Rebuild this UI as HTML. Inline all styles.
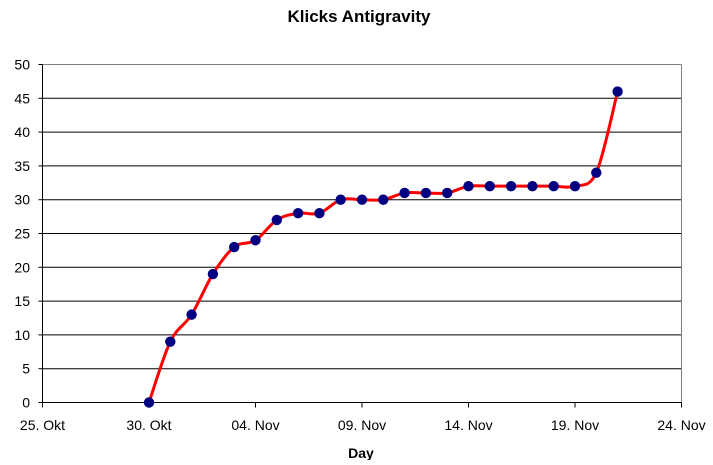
<!DOCTYPE html>
<html><head><meta charset="utf-8"><style>
html,body{margin:0;padding:0;background:#fff;}
svg text{font-family:"Liberation Sans",Arial,sans-serif;}
</style></head><body>
<svg id="s" width="713" height="460" xmlns="http://www.w3.org/2000/svg">
<text x="359" y="22" font-size="17" font-weight="bold" text-anchor="middle">Klicks Antigravity</text>
<text x="361" y="458" font-size="14" font-weight="bold" text-anchor="middle">Day</text>
<g id="grid"></g>
<path id="curve" fill="none" stroke="#ff0000" stroke-width="3"/>
<g id="marks" fill="#000080"></g>
</svg>
<script>
var ns="http://www.w3.org/2000/svg",g=document.getElementById('grid'),s=document.getElementById('s');
function el(t,a,p,txt){var e=document.createElementNS(ns,t);for(var k in a)e.setAttribute(k,a[k]);if(txt!=null)e.textContent=txt;(p||g).appendChild(e);return e;}
var X0=42.5,X1=681.5,Y0=402.5,Y1=64.5;
function yv(v){return Y0-(Y0-Y1)*v/50;}
for(var v=0;v<=50;v+=5){var y=yv(v);
 if(v>0&&v<50)el('line',{x1:X0,x2:X1,y1:y,y2:y,stroke:'#000'});
 el('line',{x1:X0-4,x2:X0,y1:y,y2:y,stroke:'#000'});
 el('text',{x:30,y:y+5,'font-size':14,'text-anchor':'end',fill:'#000'},null,v);}
el('line',{x1:X0,x2:X1,y1:Y1,y2:Y1,stroke:'#808080'});
el('line',{x1:X1,x2:X1,y1:Y1,y2:Y0,stroke:'#808080'});
el('line',{x1:X0,x2:X0,y1:Y1,y2:Y0,stroke:'#000'});
el('line',{x1:X0,x2:X1,y1:Y0,y2:Y0,stroke:'#000'});
var labs=['25. Okt','30. Okt','04. Nov','09. Nov','14. Nov','19. Nov','24. Nov'];
var dx=(X1-X0)/30;
for(var i=0;i<7;i++){var x=X0+i*5*dx;
 el('line',{x1:x,x2:x,y1:Y0,y2:Y0+5,stroke:'#000'});
 el('text',{x:x,y:430,'font-size':14,'text-anchor':'middle'},null,labs[i]);}
var d=[0,9,13,19,23,24,27,28,28,30,30,30,31,31,31,32,32,32,32,32,32,34,46];
var P=d.map(function(v,i){return [X0+(5+i)*dx,yv(v)];});
var p='M'+P[0][0]+','+P[0][1];
for(var i=0;i<P.length-1;i++){var a=P[i-1]||P[i],b=P[i],c=P[i+1],e=P[i+2]||c,t=6;
 p+=' C'+(b[0]+(c[0]-a[0])/t)+','+(b[1]+(c[1]-a[1])/t)+' '+(c[0]-(e[0]-b[0])/t)+','+(c[1]-(e[1]-b[1])/t)+' '+c[0]+','+c[1];}
document.getElementById('curve').setAttribute('d',p);
var m=document.getElementById('marks');
P.forEach(function(q){el('circle',{cx:q[0],cy:q[1],r:5.2},m);});
</script>
</body></html>
